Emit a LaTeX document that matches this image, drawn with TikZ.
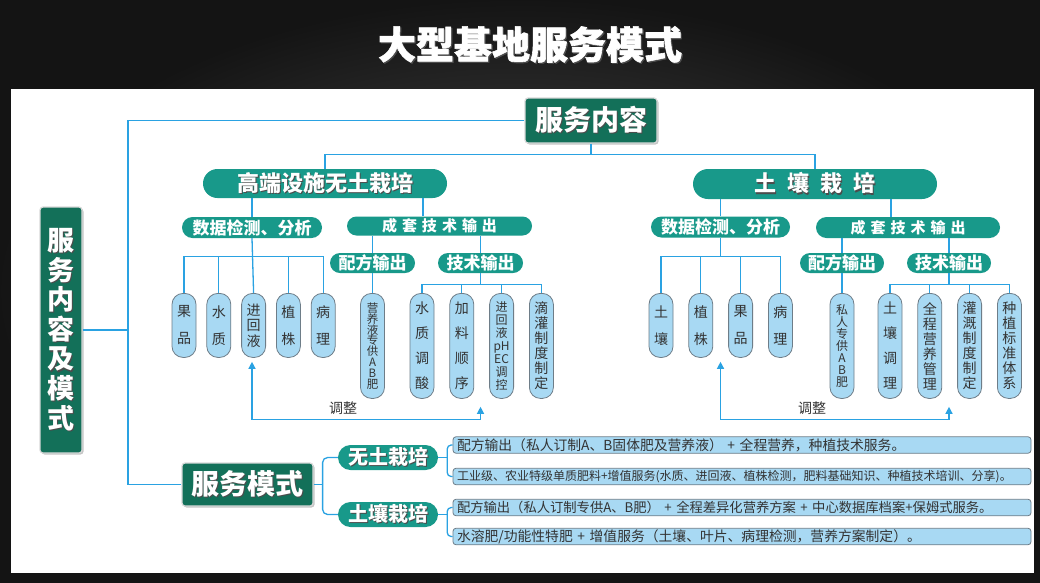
\documentclass[tikz,border=0pt]{standalone}
\usepackage{fontspec}
\setmainfont{Noto Sans CJK SC}
\usetikzlibrary{arrows.meta,positioning,shapes.misc,shadows,calc}

\definecolor{dkgreen}{HTML}{137059}
\definecolor{teal1}{HTML}{18998A}
\definecolor{lineblue}{HTML}{2AA2E2}
\definecolor{leafbg}{HTML}{A8D9F3}
\definecolor{leafedge}{HTML}{6E7D88}
\definecolor{txtgray}{HTML}{333333}

\newcommand\fs[2]{\fontsize{#1}{#2}\selectfont\lineskiplimit=-20pt}
\newcommand\sh[1]{\leavevmode\rlap{\hspace{1.2pt}\raisebox{-1.2pt}{\textcolor{black!70}{#1}}}#1}

\tikzset{
  darkbox/.style={draw=white!85!black, line width=1.2pt, fill=dkgreen, rounded corners=3pt, text=white, inner sep=0pt,
    drop shadow={opacity=0.45, shadow xshift=1.5pt, shadow yshift=-1.5pt}},
  pill/.style={rounded rectangle, fill=teal1, text=white, inner sep=0pt},
  leaf/.style={draw=leafedge, line width=0.8pt, fill=leafbg, rounded corners=11pt, minimum width=24pt, inner sep=0pt,
    anchor=north, align=center, text=txtgray},
  row/.style={draw=leafedge, line width=0.8pt, fill=leafbg, rounded corners=3pt, minimum height=16.5pt, text width=570pt,
    inner xsep=4pt, inner ysep=0pt, align=left, text=txtgray},
  link/.style={draw=lineblue, line width=1.3pt},
  adj/.style={link, {Triangle[width=7pt,length=7pt]}-{Triangle[width=7pt,length=7pt]}},
}

\begin{document}
\begin{tikzpicture}[x=1pt, y=-1pt, every node/.style={font=\fs{14}{16}}]
\useasboundingbox (0,0) rectangle (1040,582);
\shade[inner color=black!70, outer color=black!92] (0,0) rectangle (1040,582);
\fill[white] (11,89) rectangle (1034,573);

\node[text=white, font=\fs{38}{40}\bfseries\addfontfeature{FakeBold=1.5}] (title) at (530,45) {\sh{大型基地服务模式}};

% left trunk
\node[darkbox, minimum width=42pt, minimum height=246pt, align=center, font=\fs{27}{29.6}\bfseries] (fwnr) at (61,330)
  {\sh{服}\\\sh{务}\\\sh{内}\\\sh{容}\\\sh{及}\\\sh{模}\\\sh{式}};
\node[darkbox, minimum width=132pt, minimum height=45pt, font=\fs{28}{30}\bfseries] (nrnr) at (591,120.5) {\sh{服务内容}};
\node[darkbox, minimum width=131pt, minimum height=43pt, font=\fs{28}{30}\bfseries] (fwms) at (247.5,484.5) {\sh{服务模式}};

\coordinate (spine) at (128,330);
\draw[link] (nrnr.west) -| (spine) |- (fwms.west);
\draw[link] (fwnr.east) -- (spine);

% service content
\node[pill, minimum width=244pt, minimum height=29pt, font=\fs{22}{24}\bfseries] (gd) at (325,183.5) {\sh{高端设施无土栽培}};
\node[pill, minimum width=244pt, minimum height=30pt, font=\fs{22}{24}\bfseries] (tr) at (815,184)
  {\sh{土\hspace{11pt}壤\hspace{11pt}栽\hspace{11pt}培}};
\draw[link] (nrnr.south) -- ++(0,11) coordinate (nrm);
\draw[link] (gd.north) |- (nrm) -| (tr.north);

% soilless, high-end
\node[pill, minimum width=140pt, minimum height=21pt, font=\fs{17}{19}\bfseries] (gsj) at (252,227.5) {数据检测、分析};
\node[pill, minimum width=185pt, minimum height=19pt, font=\fs{15}{17}\bfseries] (gcj) at (439.5,226)
  {成\hspace{5pt}套\hspace{5pt}技\hspace{5pt}术\hspace{5pt}输\hspace{5pt}出};
\node[pill, minimum width=85pt, minimum height=20pt, font=\fs{17}{19}\bfseries] (gpf) at (372.5,263) {配方输出};
\node[pill, minimum width=85pt, minimum height=20pt, font=\fs{17}{19}\bfseries] (gjs) at (480.5,263) {技术输出};
\draw[link] (gsj.north) -- (gsj.north |- gd.south);
\draw[link] ([xshift=-16.5pt]gcj.north) -- ([xshift=-16.5pt]gcj.north |- gd.south);
\draw[link] (gpf.north) -- (gpf.north |- gcj.south);
\draw[link] (gjs.north) -- (gjs.north |- gcj.south);

\node[leaf, minimum height=64pt, font=\fs{14}{27}] (ga1) at (184,293) {果\\品};
\node[leaf, minimum height=64pt, font=\fs{14}{27}, right=10pt of ga1] (ga2) {水\\质};
\node[leaf, minimum height=64pt, font=\fs{14}{15.5}, right=10pt of ga2] (ga3) {进\\回\\液};
\node[leaf, minimum height=64pt, font=\fs{14}{27}, right=10pt of ga3] (ga4) {植\\株};
\node[leaf, minimum height=64pt, font=\fs{14}{27}, right=10pt of ga4] (ga5) {病\\理};
\coordinate (gsjm) at ($(gsj.south)+(0,18)$);
\draw[link] (gsj.south) -- (ga3.north);
\draw[link] (ga1.north) |- (gsjm) -| (ga5.north);
\draw[link] (ga2.north) -- (ga2.north |- gsjm);
\draw[link] (ga4.north) -- (ga4.north |- gsjm);

\node[leaf, minimum height=105pt, font=\fs{11.5}{10.8}] (gp1) at (372.5,293) {营\\养\\液\\专\\供\\A\\B\\肥};
\draw[link] (gpf.south) -- (gp1.north);

\node[leaf, minimum height=105pt, font=\fs{14}{25}] (gt1) at (422,293) {水\\质\\调\\酸};
\node[leaf, minimum height=105pt, font=\fs{14}{25}, right=15pt of gt1] (gt2) {加\\料\\顺\\序};
\node[leaf, minimum height=105pt, font=\fs{12}{13}, right=15pt of gt2] (gt3) {进\\回\\液\\pH\\EC\\调\\控};
\node[leaf, minimum height=105pt, font=\fs{14}{15}, right=15pt of gt3] (gt4) {滴\\灌\\制\\度\\制\\定};
\coordinate (gjsm) at ($(gjs.south)+(0,11)$);
\draw[link] (gt1.north) |- (gjsm) -| (gt4.north);
\draw[link] (gjs.south) -- (gjsm);
\draw[link] (gt2.north) -- (gt2.north |- gjsm);
\draw[link] (gt3.north) -- (gt3.north |- gjsm);

\draw[adj] ($(gsj.south |- ga1.south)+(0,4)$) -- ++(0,58) -| ($(gjs.south |- gt1.south)+(0,8)$);
\node[text=txtgray] (gadj) at (343,408) {调整};

% soil
\node[pill, minimum width=139pt, minimum height=21pt, font=\fs{17}{19}\bfseries] (tsj) at (720.5,227) {数据检测、分析};
\node[pill, minimum width=184pt, minimum height=21pt, font=\fs{15}{17}\bfseries] (tcj) at (908,227.5)
  {成\hspace{5pt}套\hspace{5pt}技\hspace{5pt}术\hspace{5pt}输\hspace{5pt}出};
\node[pill, minimum width=84pt, minimum height=20pt, font=\fs{17}{19}\bfseries] (tpf) at (842,263) {配方输出};
\node[pill, minimum width=84pt, minimum height=20pt, font=\fs{17}{19}\bfseries] (tjs) at (949,263) {技术输出};
\draw[link] (tsj.north) -- (tsj.north |- tr.south);
\draw[link] ([xshift=-17pt]tcj.north) -- ([xshift=-17pt]tcj.north |- tr.south);
\draw[link] (tpf.north) -- (tpf.north |- tcj.south);
\draw[link] (tjs.north) -- (tjs.north |- tcj.south);

\node[leaf, minimum height=64pt, font=\fs{14}{27}] (ta1) at (661,293) {土\\壤};
\node[leaf, minimum height=64pt, font=\fs{14}{27}, right=15pt of ta1] (ta2) {植\\株};
\node[leaf, minimum height=64pt, font=\fs{14}{27}, right=15pt of ta2] (ta3) {果\\品};
\node[leaf, minimum height=64pt, font=\fs{14}{27}, right=15pt of ta3] (ta4) {病\\理};
\coordinate (tsjm) at ($(tsj.south)+(0,18.5)$);
\draw[link] (tsj.south) -- (tsjm);
\draw[link] (ta1.north) |- (tsjm) -| (ta4.north);
\draw[link] (ta2.north) -- (ta2.north |- tsjm);
\draw[link] (ta3.north) -- (ta3.north |- tsjm);

\node[leaf, minimum height=105pt, font=\fs{12}{12}] (tp1) at (842,293) {私\\人\\专\\供\\A\\B\\肥};
\draw[link] (tpf.south) -- (tp1.north);

\node[leaf, minimum height=105pt, font=\fs{14}{25}] (tt1) at (890,293) {土\\壤\\调\\理};
\node[leaf, minimum height=105pt, font=\fs{14}{15}, right=15pt of tt1] (tt2) {全\\程\\营\\养\\管\\理};
\node[leaf, minimum height=105pt, font=\fs{14}{15}, right=15pt of tt2] (tt3) {灌\\溉\\制\\度\\制\\定};
\node[leaf, minimum height=105pt, font=\fs{14}{15}, right=15pt of tt3] (tt4) {种\\植\\标\\准\\体\\系};
\coordinate (tjsm) at ($(tjs.south)+(0,11)$);
\draw[link] (tt1.north) |- (tjsm) -| (tt4.north);
\draw[link] (tjs.south) -- (tjsm);
\draw[link] (tt2.north) -- (tt2.north |- tjsm);
\draw[link] (tt3.north) -- (tt3.north |- tjsm);

\draw[adj] ($(tsj.south |- ta1.south)+(0,4)$) -- ++(0,58) -| ($(tjs.south |- tt1.south)+(0,8)$);
\node[text=txtgray] (tadj) at (812,408) {调整};

% service mode
\node[pill, minimum width=100pt, minimum height=25pt, font=\fs{20}{22}\bfseries] (msw) at (388,457.5) {\sh{无土栽培}};
\node[pill, minimum width=100pt, minimum height=25pt, font=\fs{20}{22}\bfseries] (mst) at (388,514.5) {\sh{土壤栽培}};
\draw[link] (fwms.east) -- ++(9,0) coordinate (msm);
\draw[link, rounded corners=5pt] (msw.west) -| (msm) |- (mst.west);

\node[row, font=\fs{13.8}{15}] (r1) at (742,445) {配方输出（私人订制A、B固体肥及营养液） + 全程营养，种植技术服务。};
\node[row, font=\fs{12}{14}] (r2) at (742,476.5) {工业级、农业特级单质肥料+增值服务(水质、进回液、植株检测，肥料基础知识、种植技术培训、分享)。};
\node[row, font=\fs{13.3}{15}] (r3) at (742,507.5) {配方输出（私人订制专供A、B肥） + 全程差异化营养方案 + 中心数据库档案+保姆式服务。};
\node[row, font=\fs{13.8}{15}] (r4) at (742,536.5) {水溶肥/功能性特肥 + 增值服务（土壤、叶片、病理检测，营养方案制定）。};
\draw[link] (msw.east) -- ++(9,0) coordinate (mswm);
\draw[link, rounded corners=4pt] (r1.west) -| (mswm) |- (r2.west);
\draw[link] (mst.east) -- ++(9,0) coordinate (mstm);
\draw[link, rounded corners=4pt] (r3.west) -| (mstm) |- (r4.west);
\end{tikzpicture}
\end{document}
